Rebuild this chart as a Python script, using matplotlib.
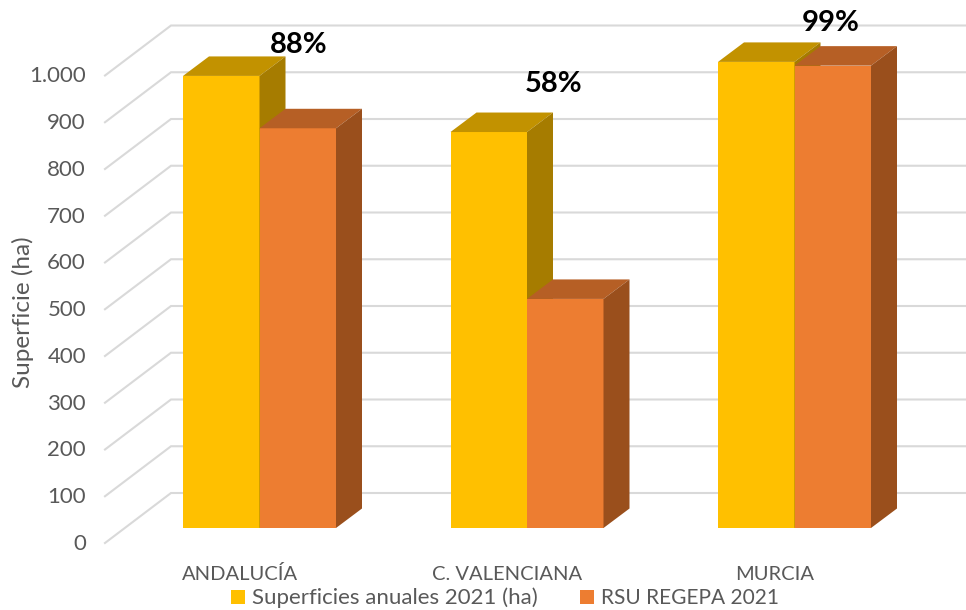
import numpy as np
import matplotlib
matplotlib.use('Agg')
import matplotlib.pyplot as plt
from matplotlib.patches import Polygon, Patch

plt.rcParams['font.family'] = ['Lato', 'DejaVu Sans']

regions = ['ANDALUCÍA', 'C. VALENCIANA', 'MURCIA']
superficies = [967, 847, 997]
rsu_regepa = [855, 490, 989]
pct_labels = ['88%', '58%', '99%']
y_ticks = [0, 100, 200, 300, 400, 500, 600, 700, 800, 900, 1000]
y_tick_labels = ['0', '100', '200', '300', '400', '500', '600', '700', '800', '900', '1.000']
names = ['Superficies anuales 2021 (ha)', 'RSU REGEPA 2021']

# colours: front, top, side
yellow = ('#ffc000', '#c29200', '#a67c00')
orange = ('#ed7d31', '#b65f25', '#9a4f1c')
grey = '#595959'

# x axis runs in pixels, y axis in hectares (0 = front foot of the bars)
px_per_ha = 0.4675
fig = plt.figure(figsize=(9.66, 6.1), dpi=100)
ax = fig.add_axes([0, 0, 1, 1])
ax.set_xlim(0, 966)
ax.set_ylim(-82 / px_per_ha, 528 / px_per_ha)
ax.axis('off')

# fake depth of the 3D box
wall_dx, wall_dy = 66, 50 / px_per_ha
wall_x = 171
wall_base = 35 / px_per_ha
bar_dx, bar_dy = 26, 19.5 / px_per_ha
group_step = 267.5
bar_w = 76.5
first_x = 183


def draw_bar(x, val, cols):
    ax.add_patch(Polygon([(x, 0), (x + bar_w, 0), (x + bar_w, val), (x, val)], fc=cols[0], ec='none', zorder=3))
    ax.add_patch(Polygon([(x, val), (x + bar_w, val), (x + bar_w + bar_dx, val + bar_dy), (x + bar_dx, val + bar_dy)],
                         fc=cols[1], ec='none', zorder=3))
    ax.add_patch(Polygon([(x + bar_w, 0), (x + bar_w + bar_dx, bar_dy), (x + bar_w + bar_dx, val + bar_dy), (x + bar_w, val)],
                         fc=cols[2], ec='none', zorder=3))


# grid on wall and floor side
for t, lab in zip(y_ticks, y_tick_labels):
    back = t + wall_base
    ax.plot([wall_x - wall_dx, wall_x, 966], [back - wall_dy, back, back], color='#d9d9d9', lw=1.5, zorder=1,
            solid_joinstyle='miter')
    ax.text(86, back - wall_dy - 1 / px_per_ha, lab, ha='right', va='center', fontsize=16, color=grey)

for i, reg in enumerate(regions):
    x = first_x + i * group_step
    draw_bar(x, superficies[i], yellow)
    draw_bar(x + bar_w, rsu_regepa[i], orange)
    ax.text(x + 57, -46 / px_per_ha, reg, ha='center', va='center', fontsize=14.5, color=grey)

ax.text(299, 483 / px_per_ha, pct_labels[0], ha='center', va='center', fontsize=21, fontweight='bold', color='black')
ax.text(553.5, 444 / px_per_ha, pct_labels[1], ha='center', va='center', fontsize=21, fontweight='bold', color='black')
ax.text(831, 505 / px_per_ha, pct_labels[2], ha='center', va='center', fontsize=21, fontweight='bold', color='black')

ax.text(23, 216 / px_per_ha, 'Superficie (ha)', rotation=90, ha='center', va='center', fontsize=17.5, color=grey)

handles = [Patch(fc=yellow[0], label=names[0]), Patch(fc=orange[0], label=names[1])]
leg = ax.legend(handles=handles, loc='center', bbox_to_anchor=(505 / 966, 1 - 598 / 610), ncol=2, frameon=False,
                fontsize=15.5, labelcolor=grey, handlelength=0.65, handleheight=0.65, handletextpad=0.33,
                columnspacing=1.95, borderpad=0, borderaxespad=0)
leg.get_texts()[0].set_fontsize(16)
leg.get_texts()[1].set_fontsize(15)

fig.savefig('out.png', dpi=100)
